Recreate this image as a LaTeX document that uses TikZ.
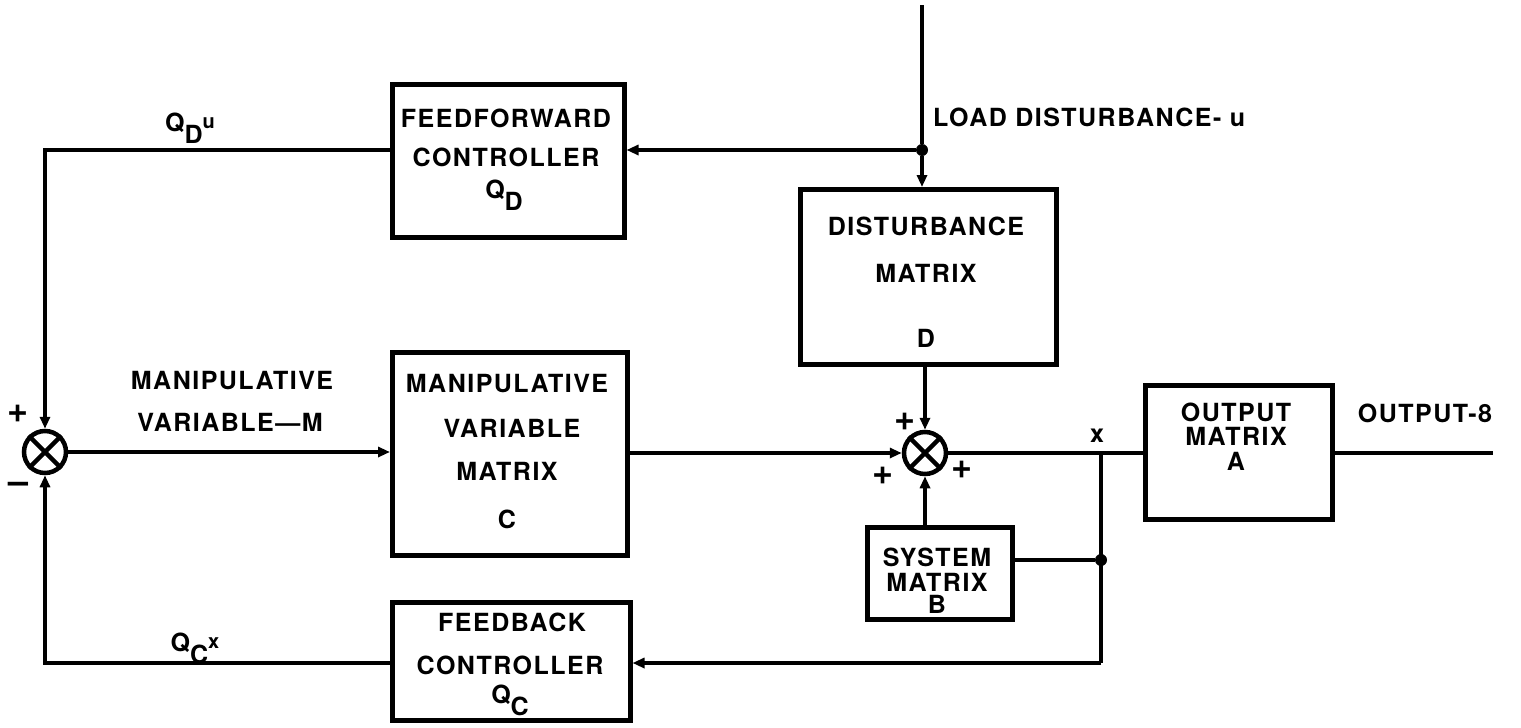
\documentclass[tikz,border=0pt]{standalone}
\usepackage{fontspec}
\setmainfont{TeX Gyre Heros}[LetterSpace=6]
\usetikzlibrary{arrows.meta}
\begin{document}
\begin{tikzpicture}[x=1pt,y=-1pt,
  every node/.style={font=\fontsize{25}{30}\selectfont\bfseries},
  blk/.style={draw,line width=4.5pt,anchor=north west,inner sep=0pt},
  sumj/.style={circle,draw,line width=4.5pt,minimum size=42pt,inner sep=0pt},
  ln/.style={line width=4.5pt},
  arr/.style={line width=4.5pt,-{Triangle[length=12pt,width=10pt]}},
  dotn/.style={circle,fill,inner sep=0pt,minimum size=12pt},
  lbl/.style={inner sep=0pt,align=center},
  sgn/.style={inner sep=0pt,font=\fontsize{36}{36}\selectfont\bfseries}]
\useasboundingbox (0,0) rectangle (1521,728);
% blocks
\node[blk,minimum width=232pt,minimum height=153pt] (ff) at (390,82) {};
\node[blk,minimum width=256pt,minimum height=175pt] (dm) at (798,187) {};
\node[blk,minimum width=235pt,minimum height=203pt] (mv) at (390,350) {};
\node[blk,minimum width=187pt,minimum height=134pt] (om) at (1143,383) {};
\node[blk,minimum width=145pt,minimum height=92pt] (sm) at (865,525) {};
\node[blk,minimum width=238pt,minimum height=118pt] (fb) at (390,600) {};
% block texts
\node[lbl] (t1) at (506,118) {FEEDFORWARD};
\node[lbl] (t2) at (506,157) {CONTROLLER};
\node[lbl] (t3) at (504,195) {Q\raisebox{-12pt}{D}};
\node[lbl] (t4) at (926,226) {DISTURBANCE};
\node[lbl] (t5) at (926,273) {MATRIX};
\node[lbl] (t6) at (926,338) {D};
\node[lbl] (t7) at (507,384) {MANIPULATIVE};
\node[lbl] (t8) at (512,428) {VARIABLE};
\node[lbl] (t9) at (507,471) {MATRIX};
\node[lbl] (t10) at (507,519) {C};
\node[lbl] (t11) at (1236,412) {OUTPUT};
\node[lbl] (t12) at (1236,436) {MATRIX};
\node[lbl] (t13) at (1236,461) {A};
\node[lbl] (t14) at (937,557) {SYSTEM};
\node[lbl] (t15) at (937,582) {MATRIX};
\node[lbl] (t16) at (937,604) {B};
\node[lbl] (t17) at (512,622) {FEEDBACK};
\node[lbl] (t18) at (510,665) {CONTROLLER};
\node[lbl] (t19) at (510,700) {Q\raisebox{-12pt}{C}};
% summing junctions
\node[sumj] (s1) at (45,452) {};
\draw[ln] (s1.north east) -- (s1.south west) (s1.north west) -- (s1.south east);
\node[sumj] (s2) at (925,453) {};
\draw[ln] (s2.north east) -- (s2.south west) (s2.north west) -- (s2.south east);
% coordinates
\coordinate (top) at (922,5);
\node[dotn] (d1) at (922,150) {};
\coordinate (c1) at (45,150);
\coordinate (c2) at (45,663);
\node[dotn] (d2) at (1101,560) {};
\coordinate (c3) at (1101,453);
\coordinate (c4) at (1101,663);
\coordinate (out) at (1493,453);
% connectors
\draw[ln] (top) -- (d1);
\draw[arr] (d1) -- (d1 |- dm.north);
\draw[arr] (d1) -- (d1 -| ff.east);
\draw[arr] (ff.west |- c1) -- (c1) -- (s1.north);
\draw[arr] (s1.east) -- (s1 -| mv.west);
\draw[arr] (mv.east |- s2) -- (s2.west);
\draw[arr] (s2 |- dm.south) -- (s2.north);
\draw[arr] (s2 |- sm.north) -- (s2.south);
\draw[ln] (s2.east) -- (om.west |- s2);
\draw[ln] (om.east |- out) -- (out);
\draw[ln] (c3) -- (c4);
\draw[ln] (sm.east |- d2) -- (d2);
\draw[arr] (c4) -- (fb.east |- c4);
\draw[arr] (fb.west |- c2) -- (c2) -- (s1.south);
% labels
\node[lbl] (l1) at (190,128) {Q\raisebox{-12pt}{D}\raisebox{3pt}{\fontsize{20}{20}\selectfont u}};
\node[lbl,anchor=west] (l2) at (933,117) {LOAD DISTURBANCE- u};
\node[lbl] (l3) at (232,381) {MANIPULATIVE};
\node[lbl] (l4) at (230,422) {VARIABLE---M};
\node[sgn] (l5) at (18,414) {+};
\node[sgn] (l6) at (19,488) {--};
\node[sgn] (l7) at (905,422) {+};
\node[sgn] (l8) at (883,476) {+};
\node[sgn] (l9) at (962,470) {+};
\node[lbl] (l10) at (1097,436) {x};
\node[lbl] (l11) at (1425,413) {OUTPUT-8};
\node[lbl] (l12) at (195,648) {Q\raisebox{-12pt}{C}\raisebox{3pt}{\fontsize{20}{20}\selectfont x}};
\end{tikzpicture}
\end{document}
